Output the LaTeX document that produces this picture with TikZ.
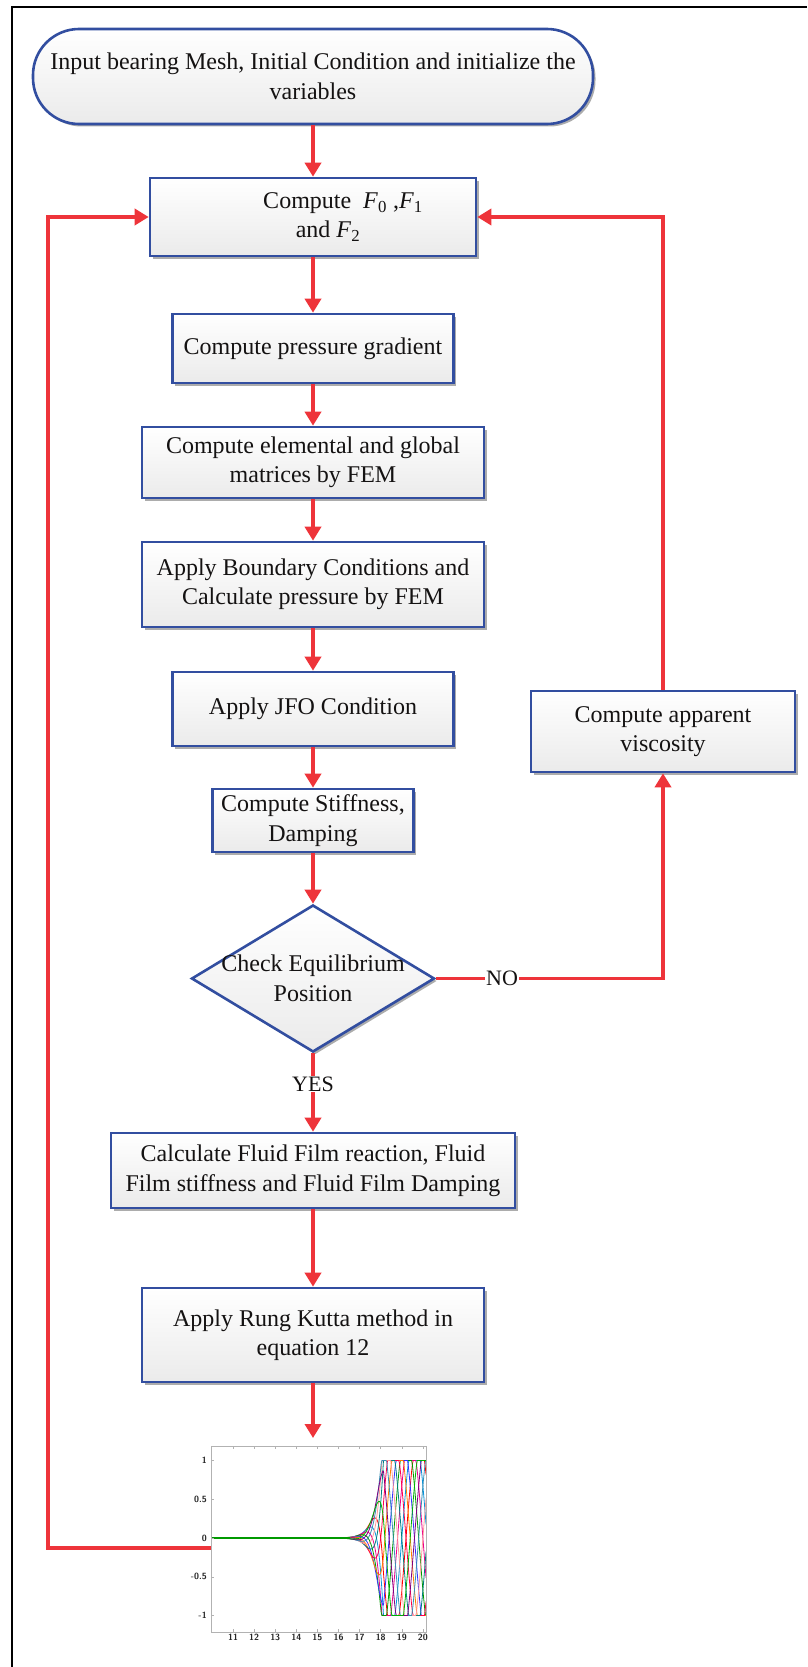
\documentclass[tikz,border=0pt]{standalone}
\usepackage{fontspec}
\setmainfont{Liberation Serif}
\usetikzlibrary{arrows.meta,shapes.geometric,shadows}

\definecolor{flowred}{RGB}{238,52,58}
\definecolor{flowblue}{RGB}{50,78,160}
\definecolor{inktext}{RGB}{20,18,18}

\tikzset{
  boxshade/.style={draw=flowblue, line width=2.6pt, top color=white, bottom color=gray!16,
    drop shadow={shadow xshift=2.5pt, shadow yshift=-2.5pt, fill=gray!65, opacity=1}},
  boxtext/.style={text=inktext, align=center, inner sep=0pt,
    font=\fontsize{24}{29.5}\selectfont},
  procbox/.style={boxshade, boxtext},
  termbox/.style={procbox, rounded corners=46pt},
  decbox/.style={boxshade, shape=diamond, inner sep=0pt},
  flow/.style={draw=flowred, line width=3.6pt, -{Triangle[length=14pt,width=16pt]}},
  flowlbl/.style={fill=white, text=inktext, inner sep=1pt, font=\fontsize{22}{24}\selectfont},
  ticklbl/.style={text=gray!30!black, font=\fontsize{9}{9}\sffamily\bfseries, inner sep=0pt},
  declare function={amp(\t)=0.01*exp(min(3*(\t-16.5),4.9));
    wave(\t,\p)=max(-1,min(1,amp(\t)*sin(150*\t+\p)));},
}

\begin{document}
\begin{tikzpicture}[x=1pt,y=-1pt]
  \useasboundingbox (0,0) rectangle (807,1667);
  % Frame
  \draw[black,line width=2pt] (12,1667) -- (12,7) -- (807,7);

  % Main chain
  \node[termbox,minimum width=560,minimum height=95] (inp) at (313,76.5)
    {Input bearing Mesh, Initial Condition and initialize the\\variables};
  \node[procbox,minimum width=326,minimum height=78] (cF) at (313,217)
    {\hspace*{60pt}Compute\ \ \textit{F}\textsubscript{0} ,\textit{F}\textsubscript{1}\\\hspace*{30pt}and \textit{F}\textsubscript{2}};
  \node[procbox,minimum width=281,minimum height=69] (pgr) at (313,348.5) {Compute pressure gradient};
  \node[procbox,minimum width=342,minimum height=71] (fem) at (313,462.5) {Compute elemental and global\\matrices by FEM};
  \node[procbox,minimum width=342,minimum height=85] (bnd) at (313,584.5) {Apply Boundary Conditions and\\Calculate pressure by FEM};
  \node[procbox,minimum width=281,minimum height=74] (jfo) at (313,709) {Apply JFO Condition};
  \node[procbox,minimum width=201,minimum height=63] (stf) at (313,820.5) {Compute Stiffness,\\Damping};
  \node[decbox,minimum width=243,minimum height=147] (chk) at (313,978.5) {};
  \node[boxtext] (chkt) at (chk) {Check Equilibrium\\Position};
  \node[procbox,minimum width=404,minimum height=75] (ffr) at (313,1170.5) {Calculate Fluid Film reaction, Fluid\\Film stiffness and Fluid Film Damping};
  \node[procbox,minimum width=342,minimum height=94] (rk) at (313,1335) {Apply Rung Kutta method in\\equation 12};
  \node[procbox,minimum width=264,minimum height=81] (vis) at (663,731.5) {Compute apparent\\viscosity};

  \coordinate (plotT) at (313,1438);
  \coordinate (plotL) at (211,1548);
  \coordinate (loopL) at (48,1548);

  \draw[flow] (inp) -- (cF);
  \draw[flow] (cF) -- (pgr);
  \draw[flow] (pgr) -- (fem);
  \draw[flow] (fem) -- (bnd);
  \draw[flow] (bnd) -- (jfo);
  \draw[flow] (jfo) -- (stf);
  \draw[flow] (stf) -- (chk);
  \draw[flow] (chk) -- (ffr);
  \draw[flow] (ffr) -- (rk);
  \draw[flow] (rk) -- (plotT);

  % Loops
  \draw[flow] (chk.east) -| (vis.south);
  \draw[flow] (vis.north) |- (cF.east);
  \draw[flow] (plotL) -- (loopL) |- (cF.west);

  % Branch labels
  \node[flowlbl] (yes) at (313,1084) {YES};
  \node[flowlbl] (no) at (502,978.5) {NO};

  % Result plot
  \fill[white] (211,1446) rectangle (426,1632);
  \foreach \k/\c in {0/red,1/cyan!80!blue,2/magenta,3/green!60!black,4/blue!80,5/orange,
                     6/red!70!magenta,7/teal,8/pink!80!red,9/cyan!70!black,10/violet,11/green!70!black}
    \draw[\c,line width=0.8pt] plot[domain=16:20.15,samples=110]
      ({211.9+21.1*(\x-10)},{1538-77.5*wave(\x,\k*30)});
  \draw[green!60!black,line width=1.6pt] (211,1538) -- (350,1538);
  \draw[gray!60,line width=0.9pt] (211,1446) rectangle (426,1632);
  \foreach \t in {11,...,20}
    \draw[gray!60,line width=0.5pt] ({211.9+21.1*(\t-10)},1446) -- ++(0,3)
      ({211.9+21.1*(\t-10)},1632) -- ++(0,-3)
      node[ticklbl,below=5pt] {\t};
  \foreach \v in {1,0.5,0,-0.5,-1}
    \draw[gray!60,line width=0.5pt] (211,{1538-77.5*\v}) -- ++(3,0)
      node[ticklbl,pos=0,left=4pt] {\v};
\end{tikzpicture}
\end{document}
